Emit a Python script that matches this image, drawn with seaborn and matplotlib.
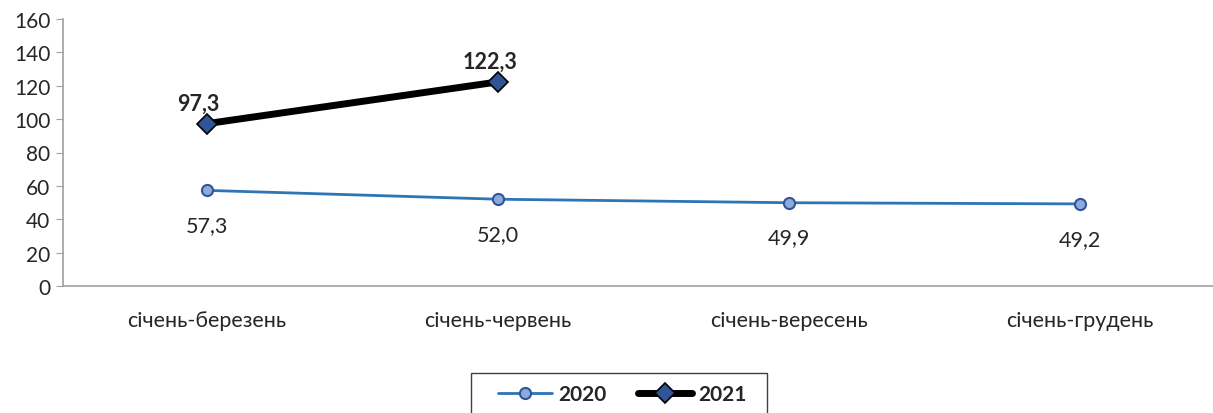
import matplotlib
matplotlib.use("Agg")
import matplotlib.pyplot as plt
import pandas as pd
import seaborn as sns
from matplotlib.patches import Rectangle

# Data
periods = ["січень-березень", "січень-червень", "січень-вересень", "січень-грудень"]
values_2020 = [57.3, 52.0, 49.9, 49.2]
values_2021 = [97.3, 122.3]
y_ticks = [0, 20, 40, 60, 80, 100, 120, 140, 160]

sns.set_style("white")
plt.rcParams["font.family"] = ["Lato", "DejaVu Sans"]

df20 = pd.DataFrame({"x": range(len(values_2020)), "value": values_2020})
df21 = pd.DataFrame({"x": range(len(values_2021)), "value": values_2021})

fig = plt.figure(figsize=(12.13, 4.14), dpi=100)
ax = fig.add_axes([63 / 1213, 1 - 287 / 414, 1 - 63 / 1213, (287 - 20) / 414])

sns.lineplot(data=df20, x="x", y="value", ax=ax, color="#2E75B6", linewidth=2,
             marker="o", markersize=8, markerfacecolor="#8EA9DB",
             markeredgecolor="#2F5597", markeredgewidth=1.5, label="2020")
sns.lineplot(data=df21, x="x", y="value", ax=ax, color="black", linewidth=5,
             marker="D", markersize=10, markerfacecolor="#2F5597",
             markeredgecolor="black", markeredgewidth=1.2, label="2021")

def fmt(v):
    return f"{v:.1f}".replace(".", ",")

for i, v in enumerate(values_2020):
    ax.annotate(fmt(v), (i, v), xytext=(0, -25), textcoords="offset points",
                ha="center", va="center", fontsize=15.5)
for i, v in enumerate(values_2021):
    ax.annotate(fmt(v), (i, v), xytext=(-6, 15), textcoords="offset points",
                ha="center", va="center", fontsize=15.5, fontweight="bold")

ax.set_xlim(-0.495, 3.457)
ax.set_ylim(0, 160)
ax.set_yticks(y_ticks)
ax.set_xticks(range(len(periods)))
ax.set_xticklabels(periods)
ax.set_xlabel("")
ax.set_ylabel("")
ax.tick_params(axis="y", length=5, color="#a0a0a0", labelsize=15, pad=4, left=True)
ax.tick_params(axis="x", length=0, labelsize=15.5, pad=17)
for side in ["top", "right"]:
    ax.spines[side].set_visible(False)
for side in ["left", "bottom"]:
    ax.spines[side].set_color("#a0a0a0")
    ax.spines[side].set_linewidth(1.2)

# legend box (runs off the bottom edge like in the source)
fig.patches.append(Rectangle((471 / 1213, -0.05), (767 - 471) / 1213, 0.05 + (414 - 374) / 414,
                             transform=fig.transFigure, fill=False,
                             edgecolor="#404040", linewidth=1))
leg = ax.legend(loc="center", bbox_to_anchor=(622 / 1213, 1 - 395 / 414),
                bbox_transform=fig.transFigure, ncol=2, frameon=False,
                prop={"size": 15, "weight": "bold"}, handlelength=2.6,
                handletextpad=0.3, columnspacing=1.5, borderpad=0, borderaxespad=0)

fig.savefig("out.png", dpi=100)
